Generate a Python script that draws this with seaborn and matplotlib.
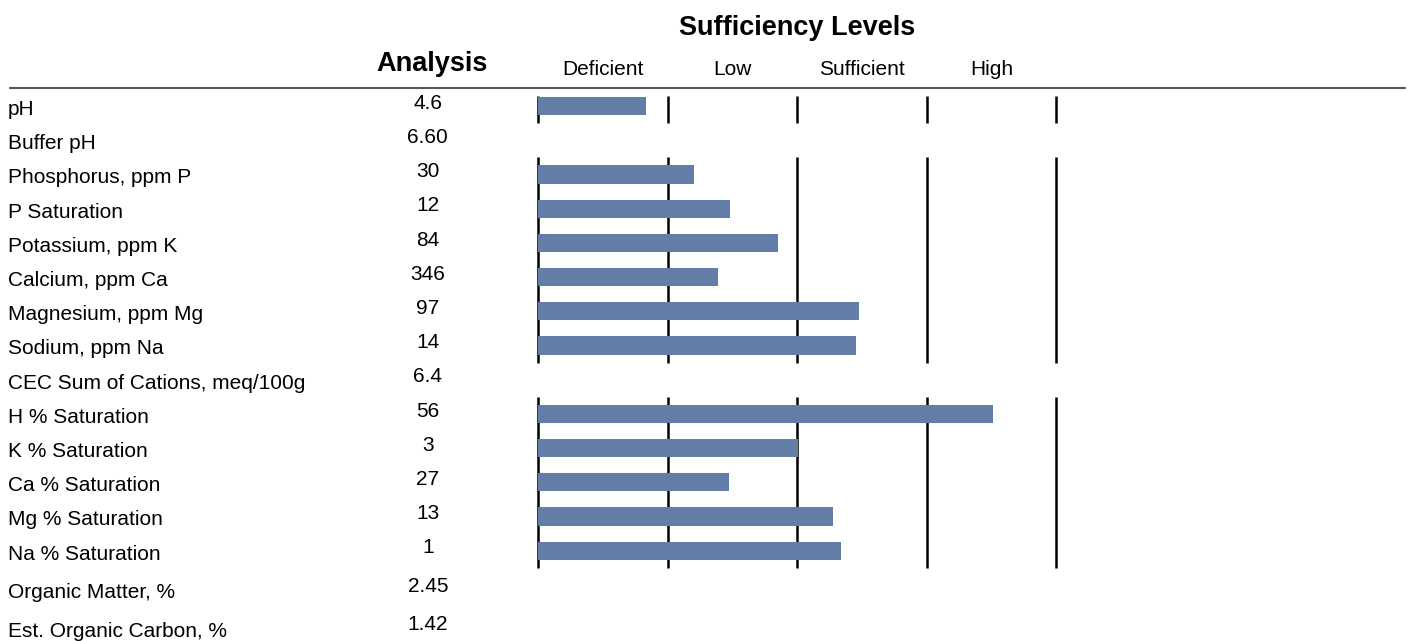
import numpy as np
import pandas as pd
import matplotlib
matplotlib.use("Agg")
import matplotlib.pyplot as plt
import seaborn as sns

# soil test rows, top to bottom
labels = ["pH", "Buffer pH", "Phosphorus, ppm P", "P Saturation", "Potassium, ppm K",
          "Calcium, ppm Ca", "Magnesium, ppm Mg", "Sodium, ppm Na",
          "CEC Sum of Cations, meq/100g", "H % Saturation", "K % Saturation",
          "Ca % Saturation", "Mg % Saturation", "Na % Saturation",
          "Organic Matter, %", "Est. Organic Carbon, %"]
analysis = ["4.6", "6.60", "30", "12", "84", "346", "97", "14", "6.4", "56", "3",
            "27", "13", "1", "2.45", "1.42"]
# bar length in sufficiency-level units (0..4), nan = no bar
level_score = [0.83, np.nan, 1.20, 1.48, 1.85, 1.39, 2.48, 2.45, np.nan, 3.51,
               2.01, 1.47, 2.28, 2.34, np.nan, np.nan]
levels = ["Deficient", "Low", "Sufficient", "High"]

bar_color = "#637ea6"

sns.set_style("white")
plt.rcParams["font.family"] = ["Liberation Sans", "DejaVu Sans"]
plt.rcParams["text.color"] = "black"

df = pd.DataFrame({"label": labels, "score": level_score})

fig = plt.figure(figsize=(14.11, 6.41), dpi=100)
ax = fig.add_axes([0, 0, 1, 1])

sns.barplot(data=df, x="score", y="label", order=labels, orient="h",
            color=bar_color, saturation=1, width=0.53, linewidth=0,
            errorbar=None, ax=ax, zorder=3)

# level divider lines, drawn for each contiguous block of rows that has bars
has_bar = ~np.isnan(np.array(level_score))
blocks = []
start = None
for i, b in enumerate(has_bar):
    if b and start is None:
        start = i
    if not b and start is not None:
        blocks.append((start, i - 1))
        start = None
if start is not None:
    blocks.append((start, len(has_bar) - 1))

for s, e in blocks:
    ax.vlines(range(len(levels) + 1), max(s - 0.5, -0.3), e + 0.5,
              colors="black", linewidth=1.8, zorder=2)

# header
ax.plot([-4.07, 6.69], [-0.526, -0.526], color="#555555", linewidth=1.5,
        clip_on=False)
ax.text(2.0, -2.28, "Sufficiency Levels", ha="center", va="center",
        fontsize=19.5, fontweight="bold", color="black")
ax.text(-0.82, -1.23, "Analysis", ha="center", va="center",
        fontsize=19.5, fontweight="bold", color="black")
for i, lv in enumerate(levels):
    ax.text(i + 0.5, -1.08, lv, ha="center", va="center", fontsize=15,
            color="black")

# rows below the saturation table sit a little further apart
extra = {14: 0.12, 15: 0.25}
for i, (lab, val) in enumerate(zip(labels, analysis)):
    y = i + extra.get(i, 0)
    ax.text(-4.09, y + 0.1, lab, ha="left", va="center", fontsize=15,
            color="black")
    ax.text(-0.85, y - 0.08, val, ha="center", va="center", fontsize=15,
            color="black")

ax.set_xlim(-4.151, 6.736)
ax.set_ylim(15.64, -3.10)
ax.set_axis_off()

fig.savefig("out.png", dpi=100)
